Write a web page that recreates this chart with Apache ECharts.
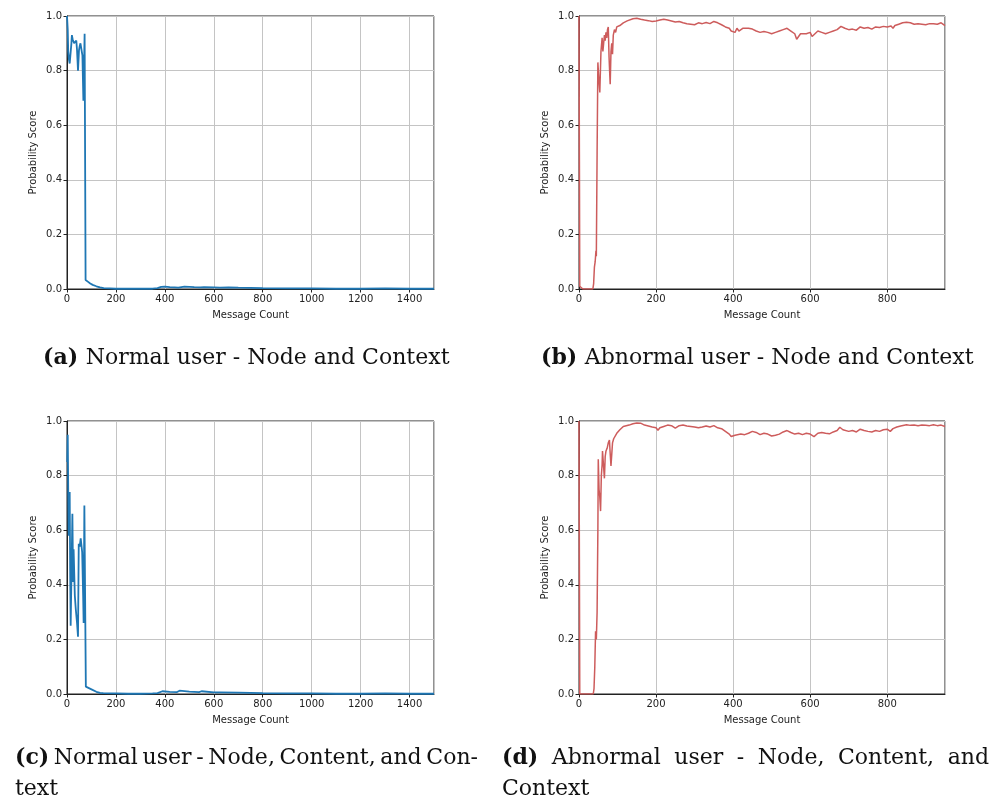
<!DOCTYPE html>
<html>
<head>
<meta charset="utf-8">
<script src="https://cdn.jsdelivr.net/npm/echarts@6/dist/echarts.min.js"></script>
<style>
html,body{margin:0;padding:0;background:#fff;}
#chart{width:995px;height:805px;}
</style>
</head>
<body>
<div id="chart"></div>
<script>
// ---- Data (message count, probability score) ----
const normalNodeContext = [
  [0,1.0],[3,0.95],[5,0.87],[8,0.84],[11,0.826],[15,0.82],[18,0.9],[20,0.93],[23,0.915],[25,0.91],
  [29,0.9],[34,0.905],[38,0.91],[41,0.875],[45,0.80],[48,0.795],[49,0.875],[52,0.89],[55,0.9],[60,0.905],
  [63,0.856],[67,0.69],[70,0.685],[72,0.935],[74,0.94],[76,0.033],[85,0.027],[95,0.02],[105,0.015],[120,0.01],
  [135,0.006],[150,0.003],[175,0.002],[200,0.001],[250,0.001],[300,0.001],[350,0.001],[370,0.003],[385,0.008],[400,0.009],
  [420,0.007],[440,0.006],[455,0.005],[460,0.011],[480,0.009],[500,0.008],[520,0.007],[545,0.006],[550,0.009],[560,0.007],
  [600,0.006],[625,0.005],[630,0.008],[660,0.006],[700,0.005],[750,0.004],[800,0.003],[900,0.002],[1000,0.002],[1100,0.001],
  [1200,0.001],[1300,0.002],[1400,0.001],[1500,0.001]
];
const abnormalNodeContext = [
  [0,1.0],[1,0.5],[2,0.01],[5,0.01],[10,0.0],[20,0.0],[30,0.0],[36,0.0],[38,0.02],[40,0.08],
  [42,0.1],[44,0.14],[45,0.12],[47,0.5],[49,0.83],[51,0.78],[54,0.72],[57,0.87],[60,0.92],[62,0.87],
  [64,0.9],[66,0.93],[68,0.91],[70,0.94],[72,0.92],[74,0.95],[76,0.96],[78,0.85],[80,0.78],[81,0.75],
  [83,0.87],[85,0.9],[87,0.86],[89,0.93],[92,0.95],[95,0.94],[98,0.96],[102,0.955],[106,0.965],[110,0.97],
  [115,0.975],[120,0.98],[125,0.982],[130,0.985],[140,0.99],[150,0.992],[160,0.988],[170,0.985],[180,0.983],[190,0.98],
  [200,0.982],[205,0.975],[210,0.985],[220,0.988],[225,0.99],[230,0.985],[240,0.982],[250,0.978],[260,0.98],[270,0.975],
  [280,0.972],[290,0.97],[300,0.968],[310,0.975],[320,0.972],[330,0.976],[340,0.972],[350,0.98],[360,0.975],[370,0.968],
  [380,0.96],[390,0.955],[395,0.945],[400,0.948],[405,0.94],[410,0.955],[415,0.945],[420,0.94],[425,0.955],[430,0.95],
  [440,0.955],[450,0.952],[460,0.945],[470,0.94],[480,0.943],[490,0.94],[500,0.935],[505,0.93],[510,0.94],[520,0.945],
  [530,0.95],[540,0.955],[550,0.945],[560,0.935],[565,0.915],[570,0.91],[575,0.935],[580,0.94],[590,0.935],[600,0.94],
  [605,0.925],[610,0.93],[620,0.945],[630,0.94],[640,0.935],[650,0.94],[660,0.945],[670,0.95],[680,0.962],[690,0.955],
  [700,0.95],[710,0.952],[720,0.948],[730,0.96],[740,0.955],[750,0.958],[760,0.952],[770,0.96],[780,0.958],[790,0.962],
  [800,0.96],[810,0.963],[815,0.955],[820,0.965],[830,0.97],[840,0.975],[850,0.977],[860,0.975],[870,0.97],[880,0.972],
  [890,0.97],[900,0.968],[910,0.972],[915,0.978],[920,0.972],[930,0.97],[940,0.975],[945,0.968],[950,0.965]
];
const normalNodeContentContext = [
  [1,0.85],[3,0.95],[5,0.75],[7,0.58],[8,0.74],[10,0.6],[11,0.74],[13,0.45],[15,0.25],[19,0.25],
  [22,0.66],[25,0.41],[27,0.53],[32,0.36],[36,0.31],[41,0.26],[45,0.21],[48,0.55],[52,0.54],[56,0.57],
  [62,0.52],[66,0.36],[68,0.26],[71,0.69],[74,0.69],[77,0.027],[85,0.022],[100,0.017],[120,0.008],[135,0.004],
  [148,0.003],[200,0.002],[250,0.001],[300,0.001],[350,0.002],[370,0.003],[390,0.01],[420,0.008],[450,0.007],[460,0.012],
  [500,0.009],[540,0.007],[550,0.01],[600,0.006],[625,0.006],[630,0.008],[700,0.005],[800,0.003],[900,0.002],[1000,0.002],
  [1100,0.001],[1200,0.001],[1300,0.002],[1400,0.001],[1500,0.001]
];
const abnormalNodeContentContext = [
  [0,1.0],[1,0.5],[2,0.0],[10,0.0],[20,0.0],[30,0.0],[37,0.0],[39,0.02],[41,0.1],[43,0.23],
  [45,0.2],[47,0.3],[49,0.6],[50,0.86],[52,0.75],[54,0.72],[56,0.67],[58,0.8],[60,0.84],[61,0.89],
  [63,0.85],[66,0.79],[68,0.87],[70,0.89],[73,0.9],[76,0.92],[79,0.93],[81,0.88],[83,0.835],[85,0.84],
  [87,0.92],[90,0.935],[94,0.94],[98,0.955],[102,0.96],[106,0.968],[110,0.975],[115,0.98],[120,0.982],[130,0.985],
  [140,0.99],[150,0.993],[160,0.992],[170,0.985],[180,0.982],[190,0.978],[200,0.975],[205,0.966],[210,0.975],[220,0.98],
  [230,0.985],[240,0.983],[250,0.974],[260,0.983],[270,0.985],[280,0.982],[290,0.98],[300,0.978],[310,0.975],[320,0.978],
  [330,0.982],[340,0.978],[350,0.983],[360,0.975],[370,0.972],[380,0.962],[390,0.952],[395,0.943],[400,0.94],[405,0.948],
  [410,0.945],[420,0.952],[430,0.95],[440,0.955],[450,0.962],[460,0.958],[470,0.95],[480,0.955],[490,0.952],[500,0.945],
  [505,0.938],[510,0.948],[520,0.952],[530,0.96],[540,0.965],[550,0.958],[560,0.952],[570,0.955],[580,0.95],[590,0.955],
  [600,0.952],[610,0.943],[620,0.955],[630,0.958],[640,0.955],[650,0.953],[660,0.96],[670,0.965],[677,0.977],[685,0.968],
  [690,0.965],[700,0.962],[710,0.965],[720,0.96],[730,0.97],[740,0.965],[750,0.962],[760,0.96],[770,0.965],[780,0.962],
  [790,0.968],[800,0.97],[808,0.962],[815,0.972],[825,0.978],[835,0.982],[850,0.986],[860,0.984],[870,0.985],[880,0.983],
  [890,0.985],[900,0.984],[910,0.983],[920,0.986],[930,0.983],[940,0.985],[945,0.978],[950,0.98]
];
const xMaxNormal = 1500;
const xMaxAbnormal = 950;
const xAxisTitle = 'Message Count';
const yAxisTitle = 'Probability Score';
// caption lines: first word is the bold sub-figure tag
const captionA = ['(a)', 'Normal user - Node and Context'];
const captionB = ['(b)', 'Abnormal user - Node and Context'];
const captionC1 = ['(c)', 'Normal', 'user', '-', 'Node,', 'Content,', 'and', 'Con-'];
const captionC2 = 'text';
const captionD1 = ['(d)', 'Abnormal', 'user', '-', 'Node,', 'Content,', 'and'];
const captionD2 = 'Context';

// ---- Layout ----
const grids = [
  {left: 67, top: 16, width: 367, height: 273},
  {left: 579, top: 16, width: 366, height: 273},
  {left: 67, top: 421, width: 367, height: 273},
  {left: 579, top: 421, width: 366, height: 273}
];
const panelData = [normalNodeContext, abnormalNodeContext, normalNodeContentContext, abnormalNodeContentContext];
const panelMax = [xMaxNormal, xMaxAbnormal, xMaxNormal, xMaxAbnormal];
const panelColor = ['#1f77b4', '#cd5c5c', '#1f77b4', '#cd5c5c'];
const panelWidth = [1.8, 1.5, 1.8, 1.5];

const CAP_FAMILY = '"DejaVu Serif"';
const CAP_SIZE = 22;
const capFont = CAP_SIZE + 'px ' + CAP_FAMILY;
const capBold = 'bold ' + CAP_SIZE + 'px ' + CAP_FAMILY;
const measureCtx = document.createElement('canvas').getContext('2d');
function textW(t, f) { measureCtx.font = f; return measureCtx.measureText(t).width; }

function capText(x, y, text, bold) {
  return {type: 'text', x: x, y: y, silent: true,
    style: {text: text, font: bold ? capBold : capFont, fill: '#111', textVerticalAlign: 'middle', verticalAlign: 'middle'}};
}
function simpleLine(words, x, y) {
  const els = [capText(x, y, words[0], true)];
  els.push(capText(x + textW(words[0] + ' ', capBold), y, words[1], false));
  return els;
}
function justifiedLine(words, x0, x1, y) {
  const widths = words.map((w, i) => textW(w, i === 0 ? capBold : capFont));
  const total = widths.reduce((a, b) => a + b, 0);
  const gap = (x1 - x0 - total) / (words.length - 1);
  const els = [];
  let x = x0;
  words.forEach((w, i) => { els.push(capText(x, y, w, i === 0)); x += widths[i] + gap; });
  return els;
}

const tickFont = {fontFamily: 'DejaVu Sans', fontSize: 10, color: '#222'};
const chart = echarts.init(document.getElementById('chart'), null, {renderer: 'canvas'});

const graphics = [].concat(
  simpleLine(captionA, 43, 358),
  simpleLine(captionB, 541, 358),
  justifiedLine(captionC1, 15, 478, 758),
  [capText(15, 789, captionC2, false)],
  justifiedLine(captionD1, 502, 989, 758),
  [capText(502, 789, captionD2, false)]
);

const option = {
  backgroundColor: '#fff',
  animation: false,
  grid: grids.map(g => Object.assign({show: true, borderColor: '#222', borderWidth: 1, backgroundColor: 'transparent'}, g)),
  xAxis: grids.map((g, i) => ({
    type: 'value', gridIndex: i, min: 0, max: panelMax[i], interval: 200,
    name: xAxisTitle, nameLocation: 'middle', nameGap: 21,
    nameTextStyle: {fontFamily: 'DejaVu Sans', fontSize: 10, color: '#222'},
    axisLine: {show: true, onZero: false, lineStyle: {color: '#222', width: 1}},
    axisTick: {show: true, length: 3.5, lineStyle: {color: '#222'}},
    axisLabel: Object.assign({margin: 5, showMaxLabel: false, formatter: v => String(v)}, tickFont),
    splitLine: {show: true, lineStyle: {color: '#c4c4c4', width: 1}}
  })),
  yAxis: grids.map((g, i) => ({
    type: 'value', gridIndex: i, min: 0, max: 1, interval: 0.2,
    name: yAxisTitle, nameLocation: 'middle', nameGap: 29, nameRotate: 90,
    nameTextStyle: {fontFamily: 'DejaVu Sans', fontSize: 10, color: '#222'},
    axisLine: {show: true, lineStyle: {color: '#222', width: 1}},
    axisTick: {show: true, length: 3.5, lineStyle: {color: '#222'}},
    axisLabel: Object.assign({margin: 5, formatter: v => v.toFixed(1)}, tickFont),
    splitLine: {show: true, lineStyle: {color: '#c4c4c4', width: 1}}
  })),
  series: panelData.map((d, i) => ({
    type: 'line', xAxisIndex: i, yAxisIndex: i, data: d, symbol: 'none',
    lineStyle: {color: panelColor[i], width: panelWidth[i]}, clip: true
  })),
  graphic: graphics
};
chart.setOption(option);
</script>
</body>
</html>
